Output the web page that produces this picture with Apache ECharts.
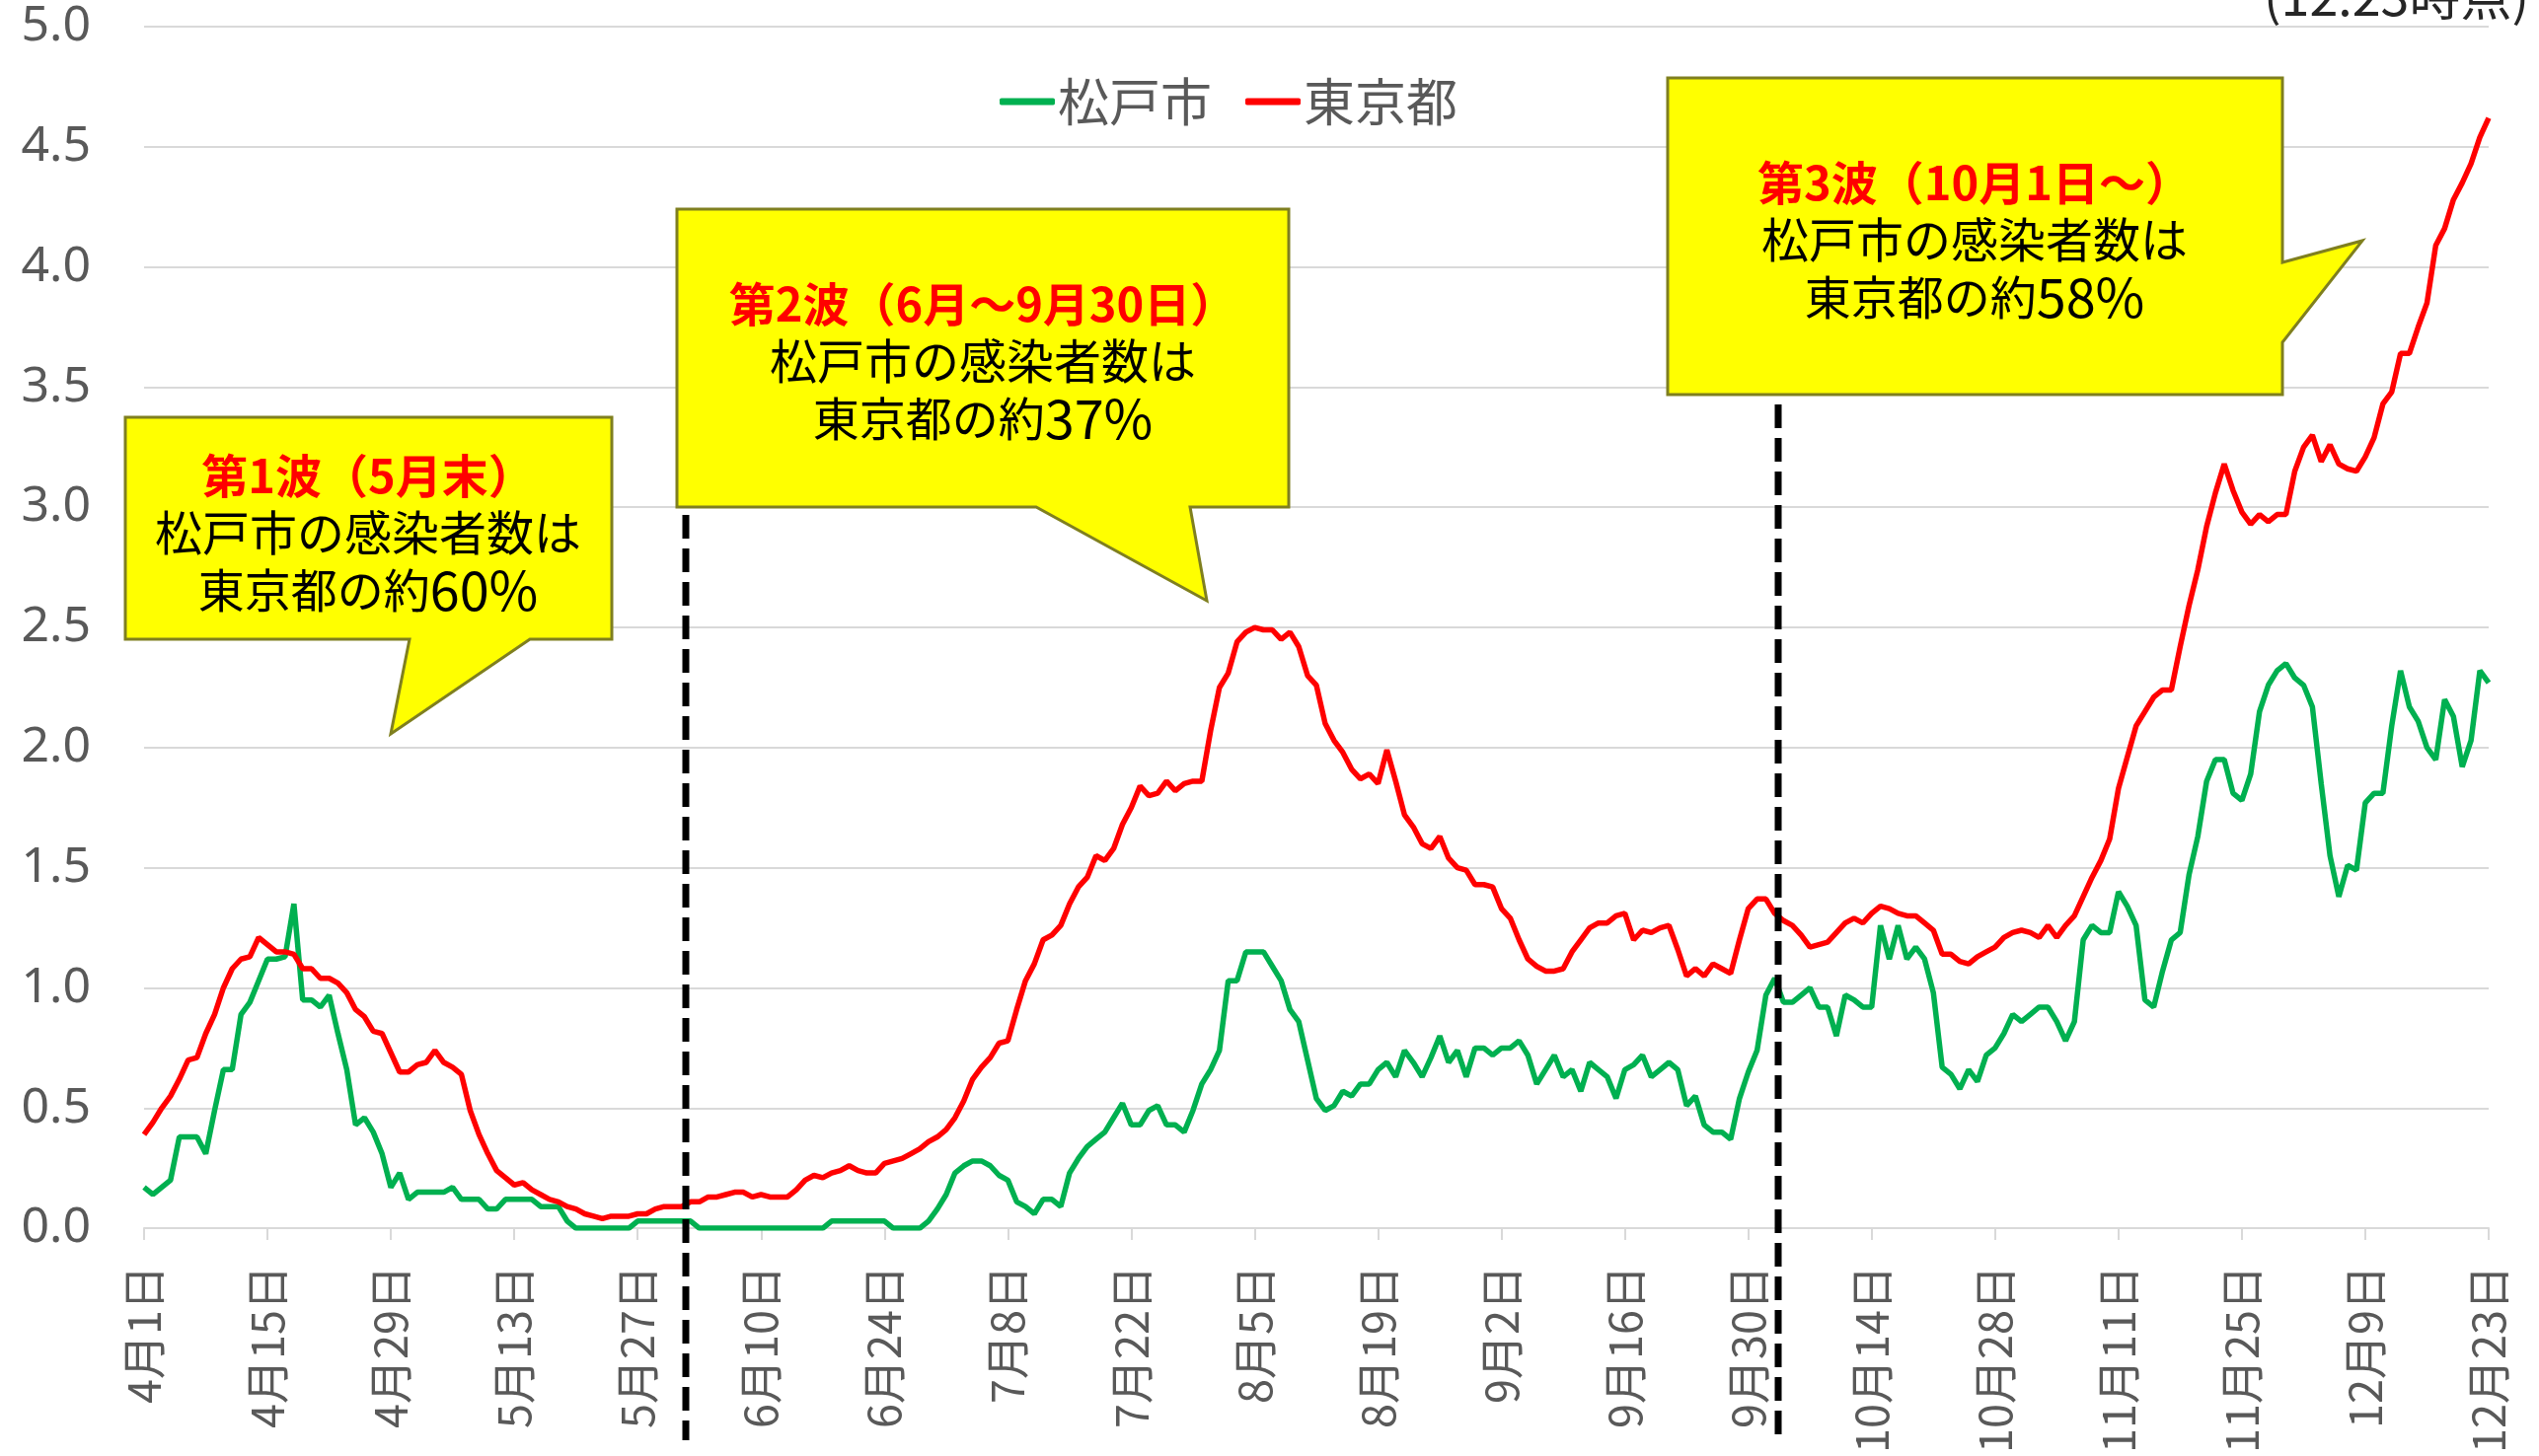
<!DOCTYPE html>
<html>
<head>
<meta charset="utf-8">
<script src="https://cdn.jsdelivr.net/npm/echarts@6/dist/echarts.min.js"></script>
<style>
  html, body { margin: 0; padding: 0; background: #ffffff; }
  #lineGraph { width: 2573px; height: 1476px; }
</style>
</head>
<body>
<div id="lineGraph"></div>
<script>
var myChart = echarts.init(document.getElementById('lineGraph'));

// days per month shown, 4月1日 .. 12月23日
const months = [4, 5, 6, 7, 8, 9, 10, 11, 12];
const monthDays = [30, 31, 30, 31, 31, 30, 31, 30, 23];

const categories = [];
months.forEach((m, i) => {
    for (let d = 1; d <= monthDays[i]; d++) {
        categories.push(m + '月' + d + '日');
    }
});

const yTicks = ['0.0', '0.5', '1.0', '1.5', '2.0', '2.5', '3.0', '3.5', '4.0', '4.5', '5.0'];

// 松戸市
const matsudo = [
    0.17, 0.14, 0.17, 0.20, 0.38, 0.38, 0.38, 0.31, 0.49, 0.66,
    0.66, 0.89, 0.94, 1.03, 1.12, 1.12, 1.13, 1.35, 0.95, 0.95,
    0.92, 0.97, 0.81, 0.66, 0.43, 0.46, 0.40, 0.31, 0.17, 0.23,
    0.12, 0.15, 0.15, 0.15, 0.15, 0.17, 0.12, 0.12, 0.12, 0.08,
    0.08, 0.12, 0.12, 0.12, 0.12, 0.09, 0.09, 0.09, 0.03, 0.00,
    0.00, 0.00, 0.00, 0.00, 0.00, 0.00, 0.03, 0.03, 0.03, 0.03,
    0.03, 0.03, 0.03, 0.00, 0.00, 0.00, 0.00, 0.00, 0.00, 0.00,
    0.00, 0.00, 0.00, 0.00, 0.00, 0.00, 0.00, 0.00, 0.03, 0.03,
    0.03, 0.03, 0.03, 0.03, 0.03, 0.00, 0.00, 0.00, 0.00, 0.03,
    0.08, 0.14, 0.23, 0.26, 0.28, 0.28, 0.26, 0.22, 0.20, 0.11,
    0.09, 0.06, 0.12, 0.12, 0.09, 0.23, 0.29, 0.34, 0.37, 0.40,
    0.46, 0.52, 0.43, 0.43, 0.49, 0.51, 0.43, 0.43, 0.40, 0.49,
    0.60, 0.66, 0.74, 1.03, 1.03, 1.15, 1.15, 1.15, 1.09, 1.03,
    0.91, 0.86, 0.70, 0.54, 0.49, 0.51, 0.57, 0.55, 0.60, 0.60,
    0.66, 0.69, 0.63, 0.74, 0.69, 0.63, 0.71, 0.80, 0.69, 0.74,
    0.63, 0.75, 0.75, 0.72, 0.75, 0.75, 0.78, 0.72, 0.60, 0.66,
    0.72, 0.63, 0.66, 0.57, 0.69, 0.66, 0.63, 0.54, 0.66, 0.68,
    0.72, 0.63, 0.66, 0.69, 0.66, 0.51, 0.55, 0.43, 0.40, 0.40,
    0.37, 0.54, 0.65, 0.74, 0.97, 1.04, 0.94, 0.94, 0.97, 1.00,
    0.92, 0.92, 0.80, 0.97, 0.95, 0.92, 0.92, 1.26, 1.12, 1.26,
    1.12, 1.17, 1.12, 0.98, 0.67, 0.64, 0.58, 0.66, 0.61, 0.72,
    0.75, 0.81, 0.89, 0.86, 0.89, 0.92, 0.92, 0.86, 0.78, 0.86,
    1.20, 1.26, 1.23, 1.23, 1.40, 1.34, 1.26, 0.95, 0.92, 1.07,
    1.20, 1.23, 1.47, 1.63, 1.86, 1.95, 1.95, 1.81, 1.78, 1.89,
    2.15, 2.26, 2.32, 2.35, 2.29, 2.26, 2.17, 1.85, 1.55, 1.38,
    1.51, 1.49, 1.77, 1.81, 1.81, 2.09, 2.32, 2.17, 2.11, 2.00,
    1.95, 2.20, 2.13, 1.92, 2.03, 2.32, 2.27
];

// 東京都
const tokyo = [
    0.39, 0.44, 0.50, 0.55, 0.62, 0.70, 0.71, 0.81, 0.89, 1.00,
    1.08, 1.12, 1.13, 1.21, 1.18, 1.15, 1.15, 1.14, 1.08, 1.08,
    1.04, 1.04, 1.02, 0.98, 0.91, 0.88, 0.82, 0.81, 0.73, 0.65,
    0.65, 0.68, 0.69, 0.74, 0.69, 0.67, 0.64, 0.49, 0.39, 0.31,
    0.24, 0.21, 0.18, 0.19, 0.16, 0.14, 0.12, 0.11, 0.09, 0.08,
    0.06, 0.05, 0.04, 0.05, 0.05, 0.05, 0.06, 0.06, 0.08, 0.09,
    0.09, 0.09, 0.11, 0.11, 0.13, 0.13, 0.14, 0.15, 0.15, 0.13,
    0.14, 0.13, 0.13, 0.13, 0.16, 0.20, 0.22, 0.21, 0.23, 0.24,
    0.26, 0.24, 0.23, 0.23, 0.27, 0.28, 0.29, 0.31, 0.33, 0.36,
    0.38, 0.41, 0.46, 0.53, 0.62, 0.67, 0.71, 0.77, 0.78, 0.91,
    1.03, 1.10, 1.20, 1.22, 1.26, 1.35, 1.42, 1.46, 1.55, 1.53,
    1.58, 1.68, 1.75, 1.84, 1.80, 1.81, 1.86, 1.82, 1.85, 1.86,
    1.86, 2.07, 2.25, 2.31, 2.44, 2.48, 2.50, 2.49, 2.49, 2.45,
    2.48, 2.42, 2.30, 2.26, 2.10, 2.03, 1.98, 1.91, 1.87, 1.89,
    1.85, 1.99, 1.86, 1.72, 1.67, 1.60, 1.58, 1.63, 1.54, 1.50,
    1.49, 1.43, 1.43, 1.42, 1.33, 1.29, 1.20, 1.12, 1.09, 1.07,
    1.07, 1.08, 1.15, 1.20, 1.25, 1.27, 1.27, 1.30, 1.31, 1.20,
    1.24, 1.23, 1.25, 1.26, 1.16, 1.05, 1.08, 1.05, 1.10, 1.08,
    1.06, 1.20, 1.33, 1.37, 1.37, 1.31, 1.28, 1.26, 1.22, 1.17,
    1.18, 1.19, 1.23, 1.27, 1.29, 1.27, 1.31, 1.34, 1.33, 1.31,
    1.30, 1.30, 1.27, 1.24, 1.14, 1.14, 1.11, 1.10, 1.13, 1.15,
    1.17, 1.21, 1.23, 1.24, 1.23, 1.21, 1.26, 1.21, 1.26, 1.30,
    1.38, 1.46, 1.53, 1.62, 1.83, 1.96, 2.09, 2.15, 2.21, 2.24,
    2.24, 2.42, 2.59, 2.74, 2.92, 3.06, 3.18, 3.07, 2.98, 2.93,
    2.97, 2.94, 2.97, 2.97, 3.15, 3.25, 3.30, 3.19, 3.26, 3.18,
    3.16, 3.15, 3.21, 3.29, 3.43, 3.48, 3.64, 3.64, 3.75, 3.85,
    4.09, 4.16, 4.28, 4.35, 4.43, 4.54, 4.62
];

const fontJP = '"Noto Sans CJK JP", "Noto Sans", sans-serif';
const boxFill = '#ffff00';
const boxStroke = '#7f7f1f';

// callout: bubble outline + red heading + two black lines
const callout = (points, cx, y1, heading, line2, pct) => {
    const gap = 58;
    const base = {
        textAlign: 'center',
        textVerticalAlign: 'middle',
        align: 'center',
        verticalAlign: 'middle'
    };
    const txt = (y, text, color, weight, size) => ({
        type: 'text',
        x: cx,
        y: y,
        z: 101,
        style: Object.assign({
            text: text,
            fill: color,
            font: weight + ' ' + size + 'px ' + fontJP
        }, base)
    });
    return [
        {
            type: 'polygon',
            z: 100,
            shape: { points: points },
            style: { fill: boxFill, stroke: boxStroke, lineWidth: 3 }
        },
        txt(y1, heading, '#ff0000', 'bold', 47),
        txt(y1 + gap, line2, '#000000', 'normal', 48),
        {
            type: 'text',
            x: cx,
            y: y1 + gap * 2,
            z: 101,
            style: Object.assign({
                text: '{a|東京都の約}{b|' + pct + '%}',
                fill: '#000000',
                font: '47px ' + fontJP,
                rich: {
                    a: { fontSize: 47, fontFamily: fontJP, fill: '#000000', color: '#000000' },
                    b: { fontSize: 54, fontFamily: fontJP, fill: '#000000', color: '#000000' }
                }
            }, base)
        }
    ];
};

const dashLine = (x, y1, y2) => ({
    type: 'line',
    z: 102,
    shape: { x1: x, y1: y1, x2: x, y2: y2 },
    style: { stroke: '#000000', lineWidth: 7, lineDash: [24, 10] }
});

var graphics = [].concat(
    callout([[127, 423], [620, 423], [620, 648], [537, 648], [396, 744], [415, 648], [127, 648]],
        373, 482, '第1波（5月末）', '松戸市の感染者数は', '60'),
    callout([[686, 212], [1306, 212], [1306, 514], [1206, 514], [1223, 609], [1050, 514], [686, 514]],
        996, 308, '第2波（6月～9月30日）', '松戸市の感染者数は', '37'),
    callout([[1690, 79], [2313, 79], [2313, 266], [2394, 244], [2313, 347], [2313, 400], [1690, 400]],
        2001, 185, '第3波（10月1日～）', '松戸市の感染者数は', '58'),
    [
        dashLine(695, 522, 1460),
        dashLine(1802, 410, 1460),
        {
            type: 'text',
            x: 2563,
            y: 22,
            z: 101,
            style: {
                text: '(12.23時点)',
                fill: '#262626',
                font: '52px ' + fontJP,
                textAlign: 'right',
                textVerticalAlign: 'bottom',
                align: 'right',
                verticalAlign: 'bottom'
            }
        }
    ]
);

option = {
    animation: false,
    backgroundColor: '#ffffff',
    textStyle: { fontFamily: fontJP },
    legend: {
        data: ['松戸市', '東京都'],
        left: 1008,
        top: 72,
        icon: 'roundRect',
        itemWidth: 56,
        itemHeight: 7,
        itemGap: 34,
        textStyle: { fontSize: 52, color: '#595959', fontFamily: fontJP, padding: [0, 0, 0, -2] }
    },
    grid: {
        left: 146,
        right: 51,
        top: 27,
        bottom: 229,
        containLabel: false
    },
    xAxis: {
        type: 'category',
        boundaryGap: false,
        data: categories,
        axisLine: { lineStyle: { color: '#d9d9d9', width: 2 } },
        axisTick: {
            interval: 13,
            length: 12,
            lineStyle: { color: '#d9d9d9', width: 2 }
        },
        axisLabel: {
            interval: 13,
            rotate: 90,
            margin: 38,
            fontSize: 45,
            color: '#595959',
            fontFamily: fontJP
        }
    },
    yAxis: {
        type: 'value',
        min: 0,
        max: 5,
        interval: 0.5,
        axisLine: { show: false },
        axisTick: { show: false },
        axisLabel: {
            margin: 54,
            fontSize: 50,
            color: '#595959',
            fontFamily: '"Noto Sans", sans-serif',
            formatter: (v) => yTicks[Math.round(v * 2)]
        },
        splitLine: { lineStyle: { color: '#d9d9d9', width: 2 } }
    },
    series: [
        {
            name: '松戸市',
            type: 'line',
            data: matsudo,
            symbol: 'none',
            sampling: 'none',
            lineStyle: { width: 5.5, color: '#00b050' },
            itemStyle: { color: '#00b050' }
        },
        {
            name: '東京都',
            type: 'line',
            data: tokyo,
            symbol: 'none',
            sampling: 'none',
            lineStyle: { width: 5.5, color: '#ff0000' },
            itemStyle: { color: '#ff0000' }
        }
    ],
    graphic: graphics
};

myChart.setOption(option);
</script>
</body>
</html>
